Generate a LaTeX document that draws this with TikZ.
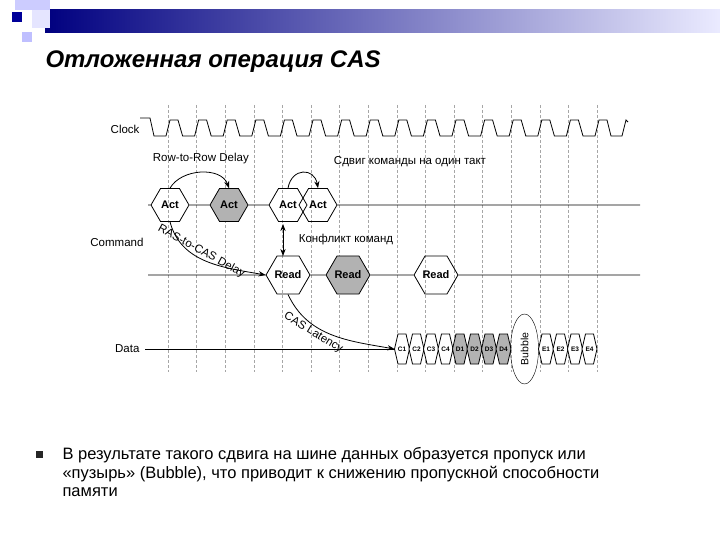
\documentclass[tikz,border=0pt]{standalone}
\usepackage{fontspec}
\setmainfont{Liberation Sans}
\usetikzlibrary{shapes.geometric,arrows.meta}
\begin{document}
\begin{tikzpicture}[x=1pt,y=-1pt,
  hexa/.style={regular polygon,regular polygon sides=6,shape border rotate=0,draw,thick,inner sep=0pt,minimum size=38pt,font=\bfseries\fontsize{11}{12}\selectfont},
  dcell/.style={draw,thick},
  dlab/.style={font=\bfseries\fontsize{6.5}{7}\selectfont,inner sep=0pt},
  lab/.style={font=\fontsize{11.5}{13}\selectfont},
  grid/.style={densely dashed,gray!70,thin},
  arr/.style={-{Stealth[length=7pt]},thick}]
\useasboundingbox (0,0) rectangle (720,540);
\shade[left color=blue!50!black,right color=blue!8] (45,10) rectangle (720,33);
\fill[blue!20] (15,0) rectangle (50,10);
\fill[blue!60!black] (12,12) rectangle (22,22);
\fill[blue!25] (22,32) rectangle (32,42);
\fill[blue!10] (32,10) rectangle (50,28);
\node[anchor=west,font=\bfseries\itshape\fontsize{24}{28}\selectfont] (title) at (42,62) {Отложенная операция CAS};
% grid
\foreach \k in {0,...,15} \draw[grid] ({168+28.6*\k},105) -- ({168+28.6*\k},372);
% clock
\draw[thick] (140,118) -- (150,118)
  \foreach \k in {0,...,14} { -- ({154+28.6*\k},136) -- ({166+28.6*\k},136) -- ({170+28.6*\k},120) -- ({178+28.6*\k},120)} -- (583,136) -- (595,136) -- (599,120) -- (607,120) -- (611,136) -- (622,136) -- (626,120) -- (628,122);
\node[lab,anchor=east] (clk) at (143,129) {Clock};
\node[lab,anchor=east] (cmd) at (147,242) {Command};
\node[lab,anchor=east] (dat) at (143,349) {Data};
% command row 1
\node[hexa] (a1) at (170,205) {Act};
\node[hexa,fill=gray!60] (a2) at (229,205) {Act};
\node[hexa] (a3) at (288,205) {Act};
\node[hexa] (a4) at (318,205) {Act};
\draw[thick] (148,205) -- (a1.west) (a1.east) -- (a2.west) (a2.east) -- (a3.west) (a4.east) -- (640,205);
% command row 2
\node[hexa] (r1) at (288,275) {Read};
\node[hexa,fill=gray!60] (r2) at (348,275) {Read};
\node[hexa] (r3) at (436,275) {Read};
\draw[thick] (148,275) -- (r1.west) (r1.east) -- (r2.west) (r2.east) -- (r3.west) (r3.east) -- (640,275);
% data
\foreach \n/\x/\f in {C1/402/white,C2/416.5/white,C3/431/white,C4/445.5/white,D1/460/gray!60,D2/474.5/gray!60,D3/489/gray!60,D4/503.5/gray!60,E1/546/white,E2/560.5/white,E3/575/white,E4/589.5/white}{
  \draw[dcell,fill=\f] (\x-7.5,349) -- (\x-4,334) -- (\x+4,334) -- (\x+7.5,349) -- (\x+4,364) -- (\x-4,364) -- cycle;
  \node[dlab] (cell\n) at (\x,349) {\n};
}
\coordinate (c0w) at (394.5,349);
\node[draw,ellipse,minimum width=28pt,minimum height=70pt,inner sep=0pt] (bub) at (524.5,349) {\rotatebox{90}{\fontsize{10.5}{11}\selectfont Bubble}};
\draw[thick] (145,349) -- (c0w);
% arrows
\draw[arr] (a1.north) to[out=60,in=110] node[lab,pos=0.5,above=5pt] {Row-to-Row Delay} (a2.north);
\draw[arr] (a3.north) to[out=80,in=100,looseness=1.8] (a4.north);
\node[lab] (shift) at (410,162) {Сдвиг команды на один такт};
\draw[{Stealth[length=7pt]}-{Stealth[length=7pt]},thick] (283,224) -- (283,256);
\node[lab] (conf) at (346,240) {Конфликт команд};
\draw[arr] (a1.south) to[out=-75,in=170] node[lab,sloped,pos=0.42,above,inner sep=1pt] {RAS-to-CAS Delay} (r1.west);
\draw[arr] (r1.south) to[out=-65,in=170] node[lab,sloped,pos=0.36,below,inner sep=1pt] {CAS Latency} (c0w);
% bullet
\fill[black!85] (36,451) rectangle (43,458);
\node[anchor=north west,align=left,font=\fontsize{16.5}{18.5}\selectfont] (txt) at (59,444) {В результате такого сдвига на шине данных образуется пропуск или\\«пузырь» (Bubble), что приводит к снижению пропускной способности\\памяти};
\end{tikzpicture}
\end{document}
